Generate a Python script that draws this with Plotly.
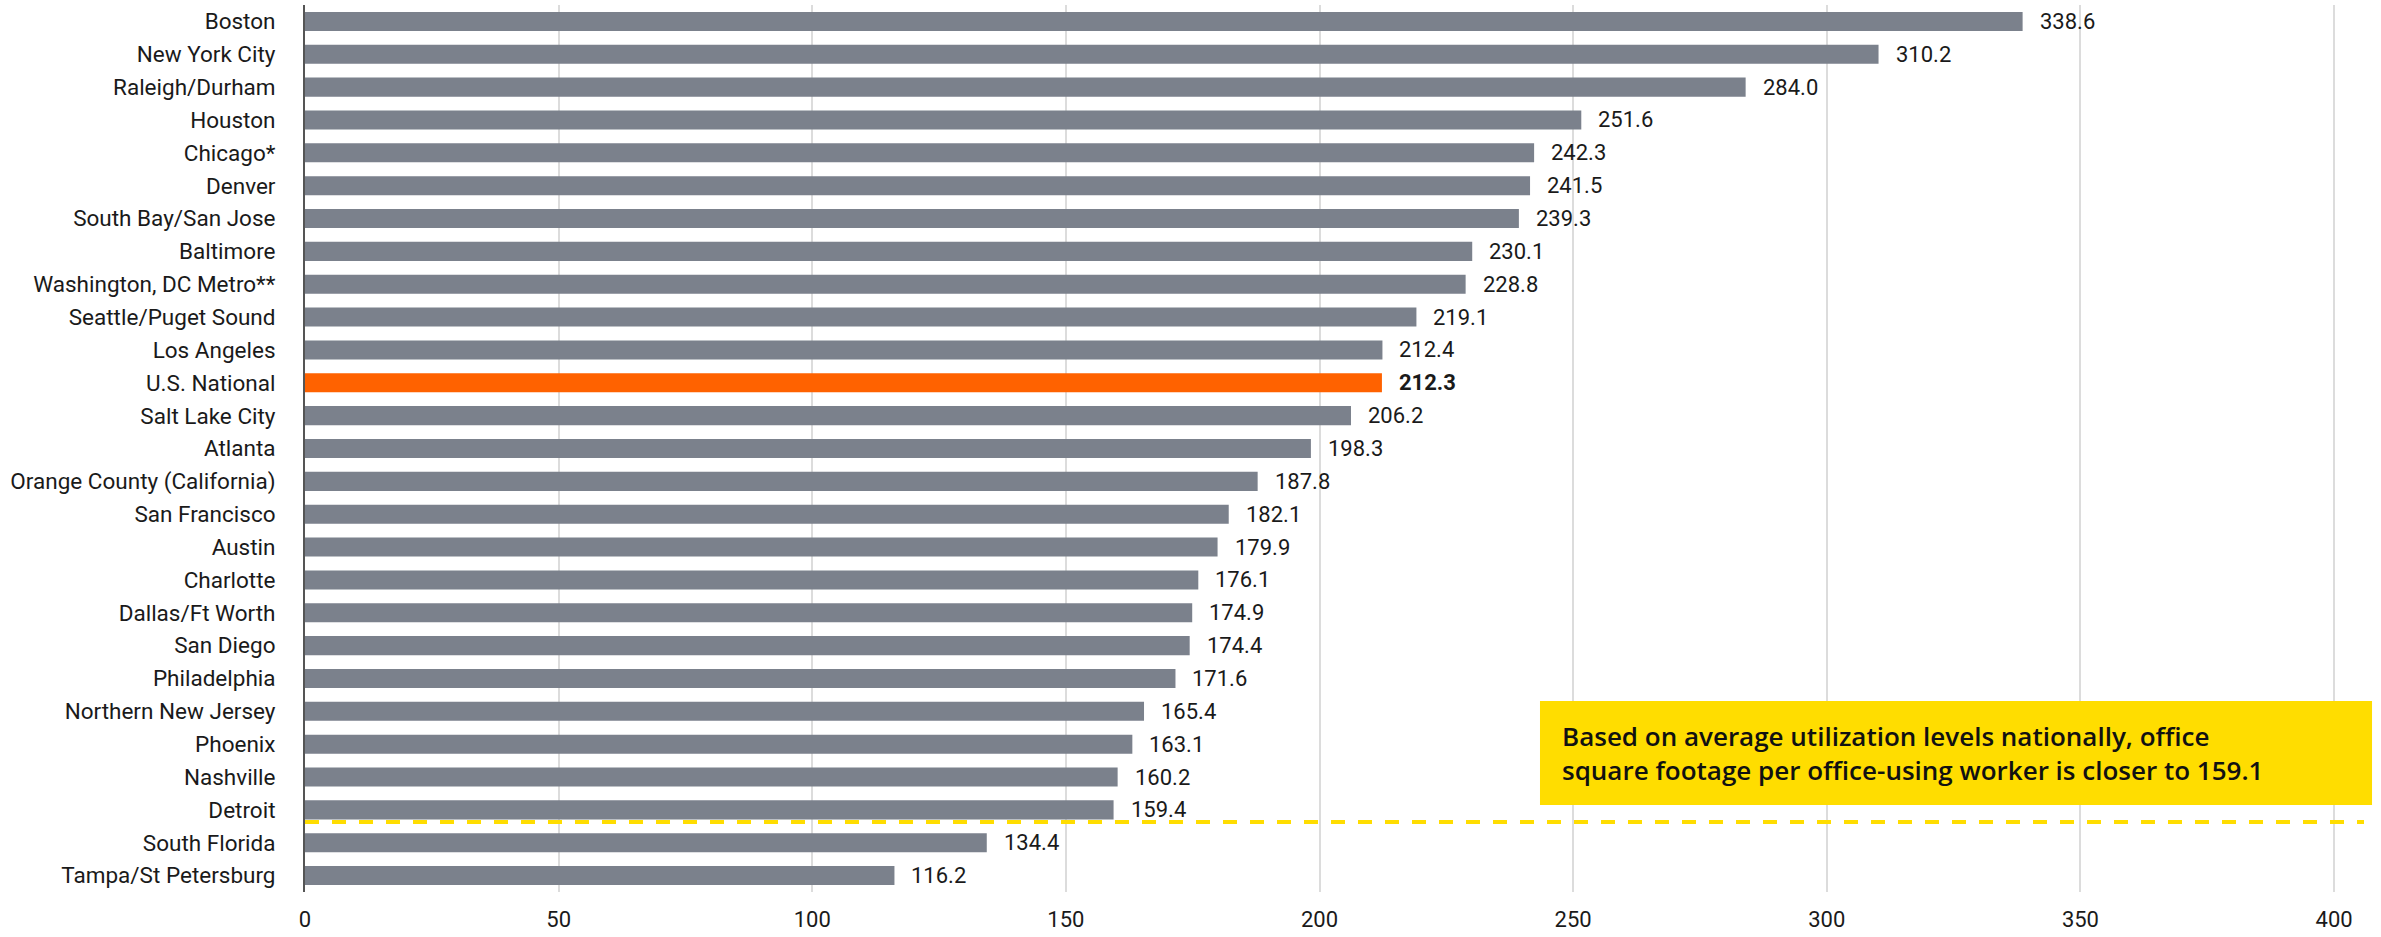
import plotly.graph_objects as go

# Office square footage per office-using worker, by market
markets = [
    "Boston", "New York City", "Raleigh/Durham", "Houston", "Chicago*", "Denver",
    "South Bay/San Jose", "Baltimore", "Washington, DC Metro**", "Seattle/Puget Sound",
    "Los Angeles", "U.S. National", "Salt Lake City", "Atlanta",
    "Orange County (California)", "San Francisco", "Austin", "Charlotte",
    "Dallas/Ft Worth", "San Diego", "Philadelphia", "Northern New Jersey", "Phoenix",
    "Nashville", "Detroit", "South Florida", "Tampa/St Petersburg",
]
sqft = [
    338.6, 310.2, 284.0, 251.6, 242.3, 241.5, 239.3, 230.1, 228.8, 219.1,
    212.4, 212.3, 206.2, 198.3, 187.8, 182.1, 179.9, 176.1, 174.9, 174.4,
    171.6, 165.4, 163.1, 160.2, 159.4, 134.4, 116.2,
]
highlight = "U.S. National"
x_ticks = [0, 50, 100, 150, 200, 250, 300, 350, 400]
note = ("Based on average utilization levels nationally, office<br>"
        "square footage per office-using worker is closer to 159.1")

GRAY = "#7b818c"
ORANGE = "#ff6200"
YELLOW = "#ffdd00"
TEXT = "#1a1a1a"
FONT = "Roboto"

colors = [ORANGE if m == highlight else GRAY for m in markets]

fig = go.Figure(go.Bar(
    x=sqft, y=markets, orientation="h",
    marker=dict(color=colors, line=dict(width=0)),
    hoverinfo="skip",
))

# value labels at the end of each bar
for m, v in zip(markets, sqft):
    bold = m == highlight
    fig.add_annotation(
        x=v, y=m, xref="x", yref="y",
        text=f"<b>{v:.1f}</b>" if bold else f"{v:.1f}",
        showarrow=False, xanchor="left", yanchor="middle", xshift=15,
        font=dict(family=FONT, size=22, color=TEXT),
    )

# threshold line just below Detroit
cut = markets.index("Detroit") + 0.37
fig.add_shape(
    type="line", xref="paper", yref="y", x0=0, x1=1, y0=cut, y1=cut,
    line=dict(color=YELLOW, width=4, dash="14px,13px"), layer="above",
)

# callout box
fig.add_shape(
    type="rect", xref="paper", yref="paper",
    x0=0.5998, x1=1.0039, y0=0.0981, y1=0.2153,
    fillcolor=YELLOW, line=dict(width=0), layer="above",
)
fig.add_annotation(
    xref="paper", yref="paper", x=0.6095, y=0.1567,
    xanchor="left", yanchor="middle", align="left", showarrow=False,
    text=note, font=dict(family="Open Sans", size=26, color="#111111", weight=600),
)

fig.update_layout(
    width=2381, height=937,
    margin=dict(l=305, r=17, t=5, b=45),
    paper_bgcolor="white", plot_bgcolor="white",
    bargap=0.42, showlegend=False,
    font=dict(family=FONT, size=22, color=TEXT),
)
fig.update_xaxes(
    range=[0, 405.9], tickvals=x_ticks, showgrid=True, gridcolor="#dcdcdc", gridwidth=1.5,
    zeroline=False, showline=False, ticks="", ticklabelstandoff=12, automargin=False,
    tickfont=dict(family=FONT, size=22, color=TEXT), fixedrange=True,
)
fig.update_yaxes(
    autorange="reversed", showgrid=False, zeroline=False, automargin=False,
    showline=True, linecolor="#555555", linewidth=2, ticks="", ticklabelstandoff=23,
    tickfont=dict(family=FONT, size=22.5, color=TEXT), fixedrange=True,
)

fig.write_html("out.html")
